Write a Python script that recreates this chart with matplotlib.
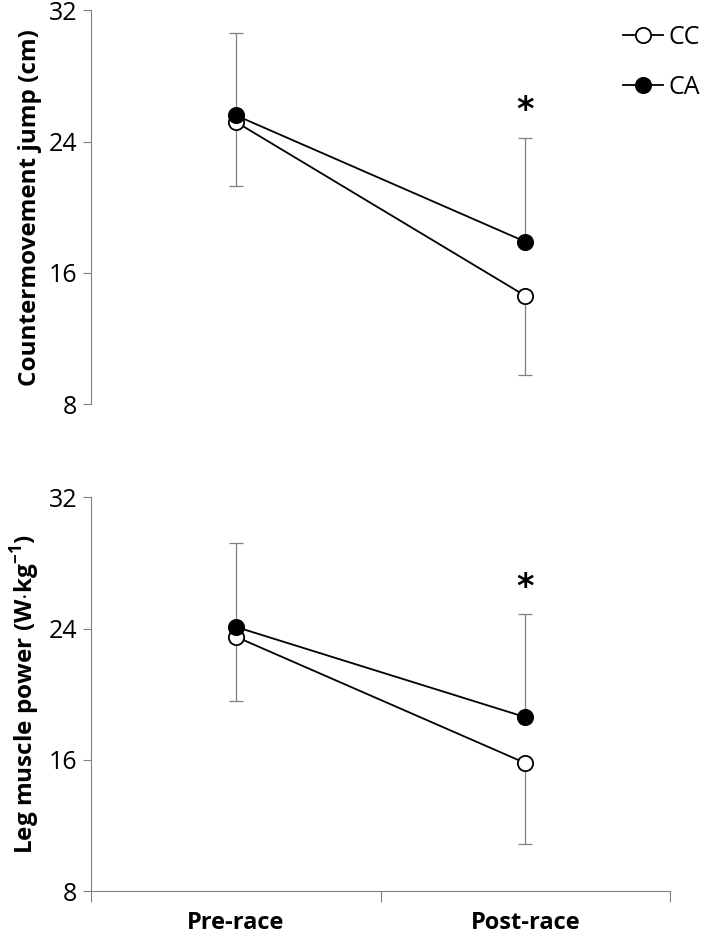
import numpy as np
import matplotlib.pyplot as plt

plt.rcParams['font.family'] = ['Open Sans', 'DejaVu Sans']
plt.rcParams['mathtext.fontset'] = 'custom'
plt.rcParams['mathtext.rm'] = 'Open Sans:bold'
plt.rcParams['mathtext.bf'] = 'Open Sans:bold'

# data
times = ['Pre-race', 'Post-race']
series = ['CC', 'CA']

cmj_cc = [25.2, 14.6]
cmj_ca = [25.6, 17.9]
cmj_cc_sd = [3.9, 4.8]   # drawn downward
cmj_ca_sd = [5.0, 6.3]   # drawn upward

pow_cc = [23.5, 15.8]
pow_ca = [24.1, 18.6]
pow_cc_sd = [3.9, 4.9]
pow_ca_sd = [5.1, 6.3]

ylabels = ['Countermovement jump (cm)', r'Leg muscle power (W$\cdot$kg$^{-1}$)']
star_y = [[None, 25.9], [None, 26.5]]

axis_col = '#808080'
err_col = '#7f7f7f'

fig = plt.figure(figsize=(7.01, 9.40), dpi=100)
ax1 = fig.add_axes([0.130, 0.570, 0.826, 0.419])
ax2 = fig.add_axes([0.130, 0.052, 0.826, 0.419])

x = np.array([0.5, 1.5])

panels = [(ax1, cmj_cc, cmj_ca, cmj_cc_sd, cmj_ca_sd),
          (ax2, pow_cc, pow_ca, pow_cc_sd, pow_ca_sd)]

for i, (ax, cc, ca, cc_sd, ca_sd) in enumerate(panels):
    # error bars: CA up, CC down
    ax.errorbar(x, ca, yerr=[np.zeros(2), ca_sd], fmt='none', ecolor=err_col,
                elinewidth=0.9, capsize=5, capthick=0.9, zorder=1)
    ax.errorbar(x, cc, yerr=[cc_sd, np.zeros(2)], fmt='none', ecolor=err_col,
                elinewidth=0.9, capsize=5, capthick=0.9, zorder=1)
    ax.plot(x, cc, '-o', color='black', lw=1.3, ms=11, mfc='white',
            mec='black', mew=1.3, label=series[0], zorder=3)
    ax.plot(x, ca, '-o', color='black', lw=1.3, ms=11, mfc='black',
            mec='black', mew=1.3, label=series[1], zorder=4)

    for j, sy in enumerate(star_y[i]):
        if sy is not None:
            ax.text(x[j], sy, '*', ha='center', va='center', fontsize=24,
                    fontweight='bold', fontfamily='DejaVu Sans')

    ax.set_xlim(0, 2)
    ax.set_ylim(8, 32)
    ax.set_yticks([8, 16, 24, 32])
    ax.tick_params(axis='y', direction='out', length=6, color=axis_col,
                   labelsize=18, pad=4)
    for s in ['top', 'right']:
        ax.spines[s].set_visible(False)
    ax.spines['left'].set_color(axis_col)
    ax.spines['bottom'].set_color(axis_col)
    ax.set_ylabel(ylabels[i], fontsize=17.5, fontweight='bold', labelpad=5)

# top panel: no x axis
ax1.spines['bottom'].set_visible(False)
ax1.set_xticks([])
ax1.legend(loc='upper right', frameon=False, fontsize=18, handlelength=1.6,
           handletextpad=0.2, labelspacing=1.0, bbox_to_anchor=(1.09, 1.02))

# bottom panel: category axis like Excel
ax2.set_xticks([0, 1, 2])
ax2.set_xticklabels([])
ax2.tick_params(axis='x', which='major', direction='out', length=8,
                color=axis_col)
ax2.set_xticks(x, minor=True)
ax2.set_xticklabels(times, minor=True, fontsize=17, fontweight='bold')
ax2.tick_params(axis='x', which='minor', length=0, pad=14)

fig.savefig('out.png', dpi=100)
